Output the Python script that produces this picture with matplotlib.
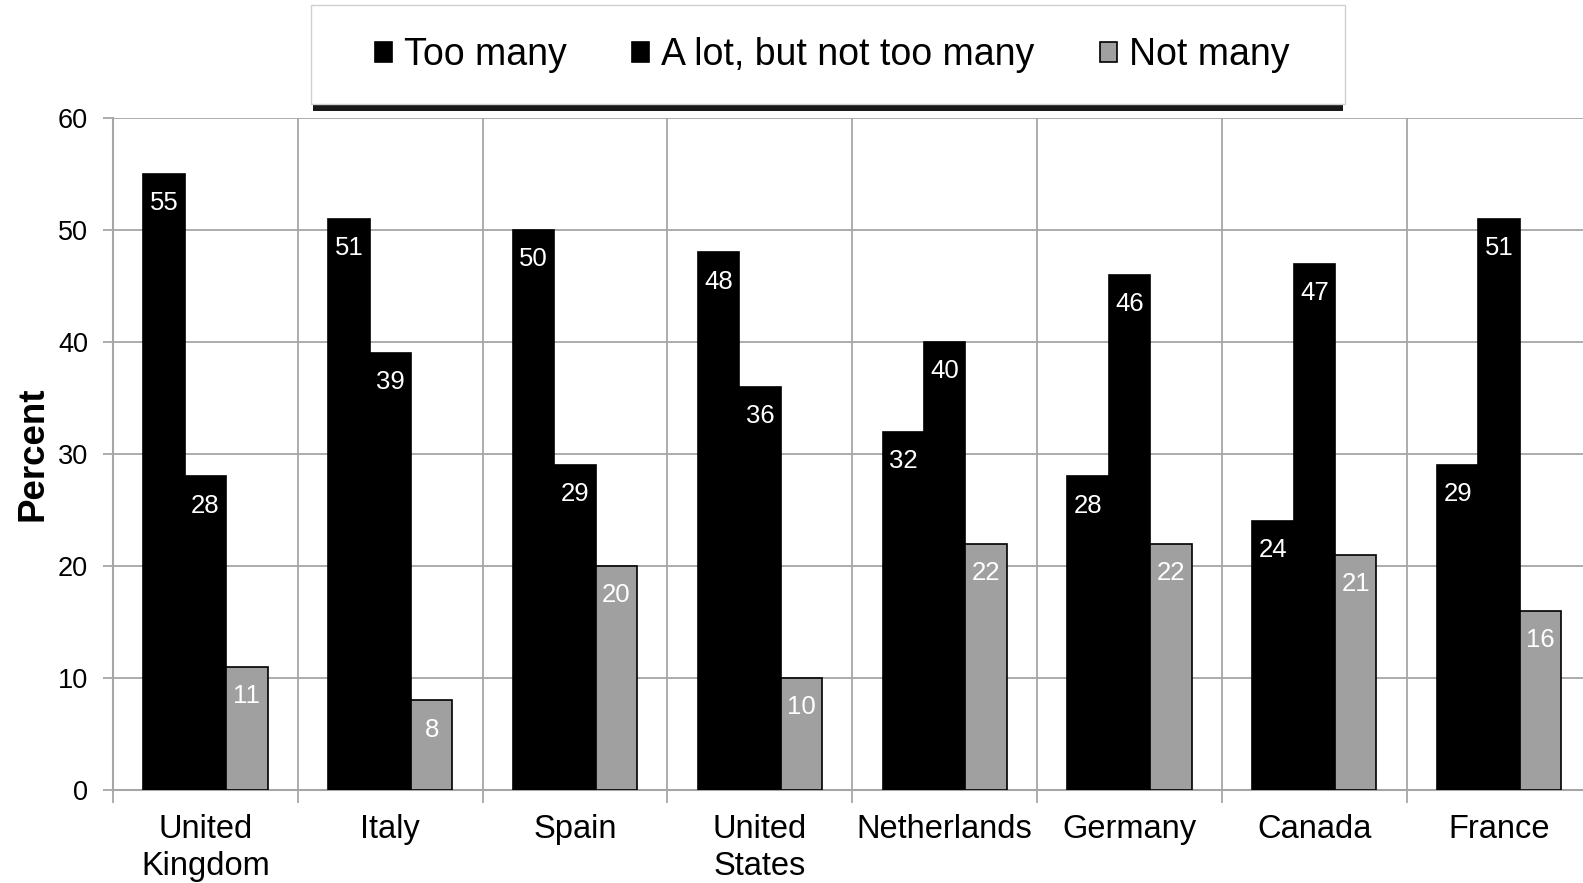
import numpy as np
import matplotlib
matplotlib.use("Agg")
import matplotlib.pyplot as plt
from matplotlib.patches import Rectangle

plt.rcParams['font.family'] = ['Liberation Sans', 'DejaVu Sans']

countries = ["United\nKingdom", "Italy", "Spain", "United\nStates",
             "Netherlands", "Germany", "Canada", "France"]
too_many = [55, 51, 50, 48, 32, 28, 24, 29]
a_lot = [28, 39, 29, 36, 40, 46, 47, 51]
not_many = [11, 8, 20, 10, 22, 22, 21, 16]

series_names = ["Too many", "A lot, but not too many", "Not many"]
colors = ["#000000", "#000000", "#a0a0a0"]

fig = plt.figure(figsize=(15.83, 8.83), dpi=100)
ax = fig.add_axes([0.0714, 0.1053, 0.934, 0.7611])

x = np.arange(len(countries))
w = 0.224
grid_col = "#a6a6a6"

# gridlines behind the bars
ax.set_axisbelow(True)
ax.yaxis.grid(True, color=grid_col, linewidth=1.3)
ax.xaxis.grid(True, which='minor', color=grid_col, linewidth=1.3)

handles = []
for k, (vals, name, col) in enumerate(zip([too_many, a_lot, not_many], series_names, colors)):
    bars = ax.bar(x + (k - 1) * w, vals, width=w, color=col, edgecolor="black",
                  linewidth=1.2, label=name, zorder=3)
    handles.append(bars)
    for b, v in zip(bars, vals):
        ax.annotate(str(v), (b.get_x() + b.get_width() / 2, v), xytext=(0, -21),
                    textcoords="offset points", ha="center", va="center",
                    color="white", fontsize=18.5, zorder=4)

ax.set_xlim(-0.5, len(countries) - 0.5)
ax.set_ylim(0, 60)
ax.set_yticks(np.arange(0, 61, 10))
ax.set_xticks(x)
ax.set_xticklabels(countries, fontsize=23.5, linespacing=1.25)
ax.set_xticks(np.arange(-0.5, len(countries), 1.0), minor=True)
ax.tick_params(axis='x', which='major', length=0, pad=17)
ax.tick_params(axis='x', which='minor', length=9, width=1.3, color=grid_col, direction='out')
ax.tick_params(axis='y', length=7, width=1.3, color=grid_col, labelsize=19.5, pad=11)

for side in ["top", "right"]:
    ax.spines[side].set_visible(False)
for side in ["left", "bottom"]:
    ax.spines[side].set_color(grid_col)
    ax.spines[side].set_linewidth(1.5)

ax.set_ylabel("Percent", fontsize=26.5, fontweight="bold")
ax.yaxis.set_label_coords(-0.0426, 0.5)

# legend box with a dark shadow underneath
box_x, box_y, box_w, box_h = 0.1965, 0.8822, 0.6532, 0.1121
fig.patches.append(Rectangle((box_x + 0.001, box_y - 0.008), box_w - 0.002, box_h,
                             transform=fig.transFigure, facecolor="black",
                             edgecolor="none", alpha=0.9, zorder=1))
fig.patches.append(Rectangle((box_x, box_y), box_w, box_h, transform=fig.transFigure,
                             facecolor="white", edgecolor="#d0d0d0", linewidth=1.0, zorder=2))

leg = fig.legend(handles=handles, labels=series_names, loc="center",
                 bbox_to_anchor=(0.5257, 0.9375), ncol=3, frameon=False,
                 fontsize=27, columnspacing=1.73, handlelength=0.47,
                 handleheight=0.47, handletextpad=0.32)
leg.set_zorder(3)

fig.savefig("out.png", dpi=100)
